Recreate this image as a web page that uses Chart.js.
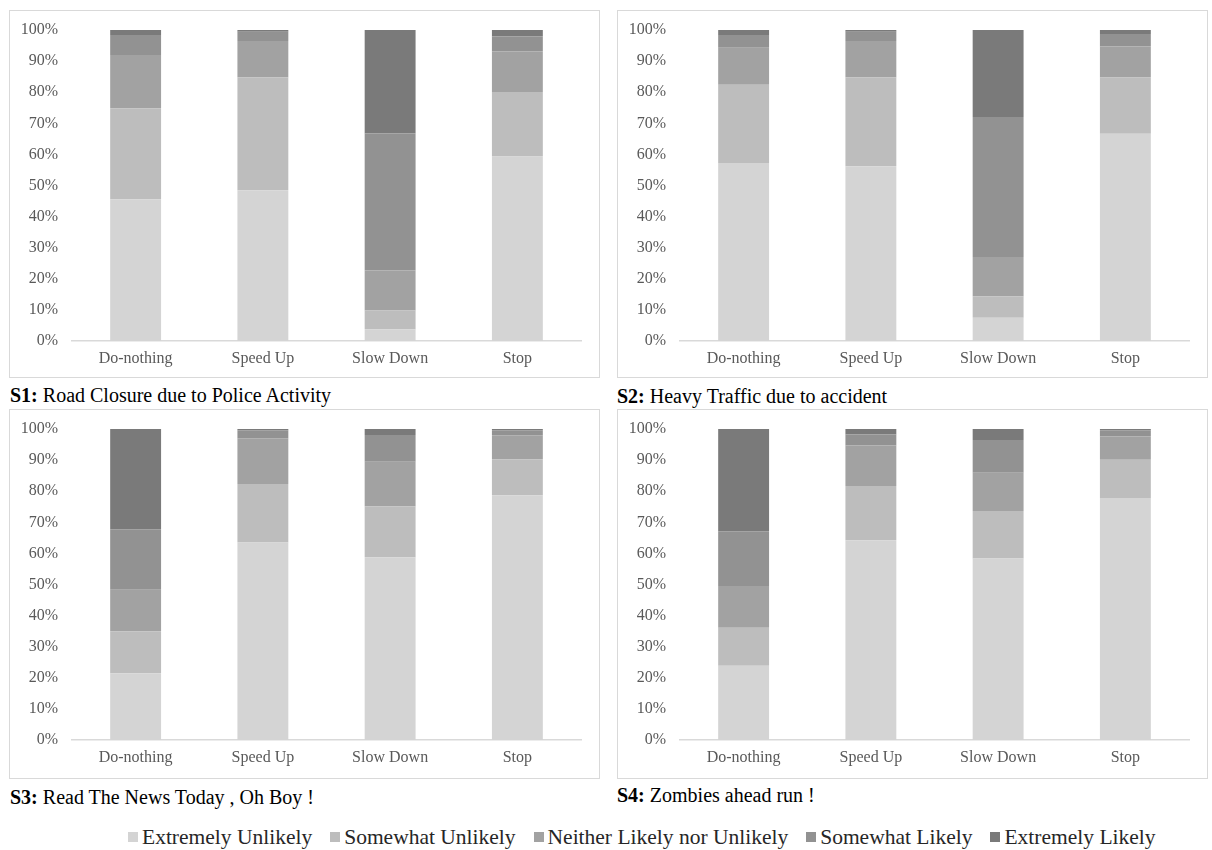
<!DOCTYPE html>
<html>
<head>
<meta charset="utf-8">
<script src="https://cdn.jsdelivr.net/npm/chart.js@4/dist/chart.umd.min.js"></script>
<style>
  html, body { margin: 0; padding: 0; background: #fff; }
  body { width: 1212px; height: 850px; position: relative; overflow: hidden;
         font-family: "Liberation Serif", "Times New Roman", serif; }
  .panel { position: absolute; border: 1px solid #d9d9d9; box-sizing: border-box; background: #fff; }
  .panel canvas { display: block; }
  .cap { position: absolute; font-size: 20px; line-height: 22px; color: #000; white-space: nowrap; }
  .legend { position: absolute; left: 128px; top: 824px; display: flex;
            font-size: 21.5px; line-height: 26px; color: #262626; white-space: nowrap; }
  .legend span.item { display: inline-flex; align-items: center; margin-right: 18px; }
  .legend i { display: inline-block; width: 10px; height: 10px; margin-right: 4px; }
</style>
</head>
<body>

<div class="panel" id="p1" style="left:9px;top:10px;width:591px;height:368px"><canvas id="c1" width="589" height="366"></canvas></div>
<div class="panel" id="p2" style="left:617px;top:10px;width:591px;height:368px"><canvas id="c2" width="589" height="366"></canvas></div>
<div class="panel" id="p3" style="left:9px;top:409px;width:591px;height:370px"><canvas id="c3" width="589" height="368"></canvas></div>
<div class="panel" id="p4" style="left:617px;top:409px;width:591px;height:370px"><canvas id="c4" width="589" height="368"></canvas></div>

<div class="cap" style="left:10px;top:384px"><b>S1:</b> Road Closure due to Police Activity</div>
<div class="cap" style="left:617px;top:385px"><b>S2:</b> Heavy Traffic due to accident</div>
<div class="cap" style="left:10px;top:786px"><b>S3:</b> Read The News Today , Oh Boy !</div>
<div class="cap" style="left:617px;top:784px"><b>S4:</b> Zombies ahead run !</div>

<div class="legend" id="legend"></div>

<script>
// Response categories (x axis) and answer levels (stacked from the bottom up)
const actions = ["Do-nothing", "Speed Up", "Slow Down", "Stop"];
const levels = ["Extremely Unlikely", "Somewhat Unlikely", "Neither Likely nor Unlikely", "Somewhat Likely", "Extremely Likely"];
const levelColors = ["#d4d4d4", "#bdbdbd", "#a2a2a2", "#929292", "#7a7a7a"];
const yTicks = [0, 10, 20, 30, 40, 50, 60, 70, 80, 90, 100];

// Share of answers (%) per action, one array per answer level
// S1: Road Closure due to Police Activity
const s1ExtremelyUnlikely = [45.6, 48.5, 3.8, 59.3];
const s1SomewhatUnlikely  = [29.2, 36.3, 6.0, 20.8];
const s1Neither           = [17.2, 11.7, 12.9, 13.0];
const s1SomewhatLikely    = [6.4, 2.9, 44.0, 4.8];
const s1ExtremelyLikely   = [1.6, 0.6, 33.3, 2.1];

// S2: Heavy Traffic due to accident
const s2ExtremelyUnlikely = [57.2, 56.2, 7.5, 66.6];
const s2SomewhatUnlikely  = [25.2, 28.6, 6.9, 18.1];
const s2Neither           = [11.9, 11.7, 12.6, 10.0];
const s2SomewhatLikely    = [4.1, 2.9, 45.0, 4.0];
const s2ExtremelyLikely   = [1.6, 0.6, 28.0, 1.3];

// S3: Read The News Today, Oh Boy!
const s3ExtremelyUnlikely = [21.5, 63.5, 58.8, 78.7];
const s3SomewhatUnlikely  = [13.5, 18.8, 16.4, 11.6];
const s3Neither           = [13.3, 14.7, 14.3, 7.7];
const s3SomewhatLikely    = [19.5, 2.6, 8.6, 1.6];
const s3ExtremelyLikely   = [32.2, 0.4, 1.9, 0.4];

// S4: Zombies ahead run!
const s4ExtremelyUnlikely = [23.9, 64.2, 58.4, 77.8];
const s4SomewhatUnlikely  = [12.2, 17.5, 15.2, 12.3];
const s4Neither           = [13.4, 13.0, 12.3, 7.5];
const s4SomewhatLikely    = [17.6, 3.5, 10.6, 2.0];
const s4ExtremelyLikely   = [32.9, 1.8, 3.5, 0.4];

const scenarios = [
  { canvas: "c1", series: [s1ExtremelyUnlikely, s1SomewhatUnlikely, s1Neither, s1SomewhatLikely, s1ExtremelyLikely] },
  { canvas: "c2", series: [s2ExtremelyUnlikely, s2SomewhatUnlikely, s2Neither, s2SomewhatLikely, s2ExtremelyLikely] },
  { canvas: "c3", series: [s3ExtremelyUnlikely, s3SomewhatUnlikely, s3Neither, s3SomewhatLikely, s3ExtremelyLikely] },
  { canvas: "c4", series: [s4ExtremelyUnlikely, s4SomewhatUnlikely, s4Neither, s4SomewhatLikely, s4ExtremelyLikely] }
];

Chart.defaults.font.family = '"Liberation Serif", "Times New Roman", serif';
Chart.defaults.color = "#595959";

scenarios.forEach(sc => {
  const canvas = document.getElementById(sc.canvas);
  new Chart(canvas, {
    type: "bar",
    data: {
      labels: actions,
      datasets: sc.series.map((vals, i) => ({
        label: levels[i],
        data: vals,
        backgroundColor: levelColors[i],
        borderWidth: 0,
        barPercentage: 0.4,
        categoryPercentage: 1.0
      }))
    },
    options: {
      responsive: false,
      animation: false,
      layout: { padding: { top: 19, right: 18, bottom: canvas.height - 366, left: 0 } },
      plugins: { legend: { display: false }, tooltip: { enabled: false } },
      scales: {
        x: {
          stacked: true,
          grid: { display: false, drawTicks: false },
          border: { display: true, color: "#d9d9d9", width: 1.5 },
          ticks: { font: { size: 16 }, padding: 8, color: "#595959" },
          afterFit: s => { s.height = 36; }
        },
        y: {
          stacked: true,
          min: 0,
          max: 100,
          afterBuildTicks: s => { s.ticks = yTicks.map(v => ({ value: v })); },
          grid: { display: false, drawTicks: false },
          border: { display: false },
          ticks: { font: { size: 16 }, padding: 14, color: "#595959", callback: v => v + "%" },
          afterFit: s => { s.width = 62; s.paddingTop = 0; s.paddingBottom = 0; }
        }
      }
    }
  });
});

// Shared legend under the four panels
const legendEl = document.getElementById("legend");
levels.forEach((name, i) => {
  const item = document.createElement("span");
  item.className = "item";
  const sw = document.createElement("i");
  sw.style.background = levelColors[i];
  item.appendChild(sw);
  item.appendChild(document.createTextNode(name));
  legendEl.appendChild(item);
});
</script>
</body>
</html>
